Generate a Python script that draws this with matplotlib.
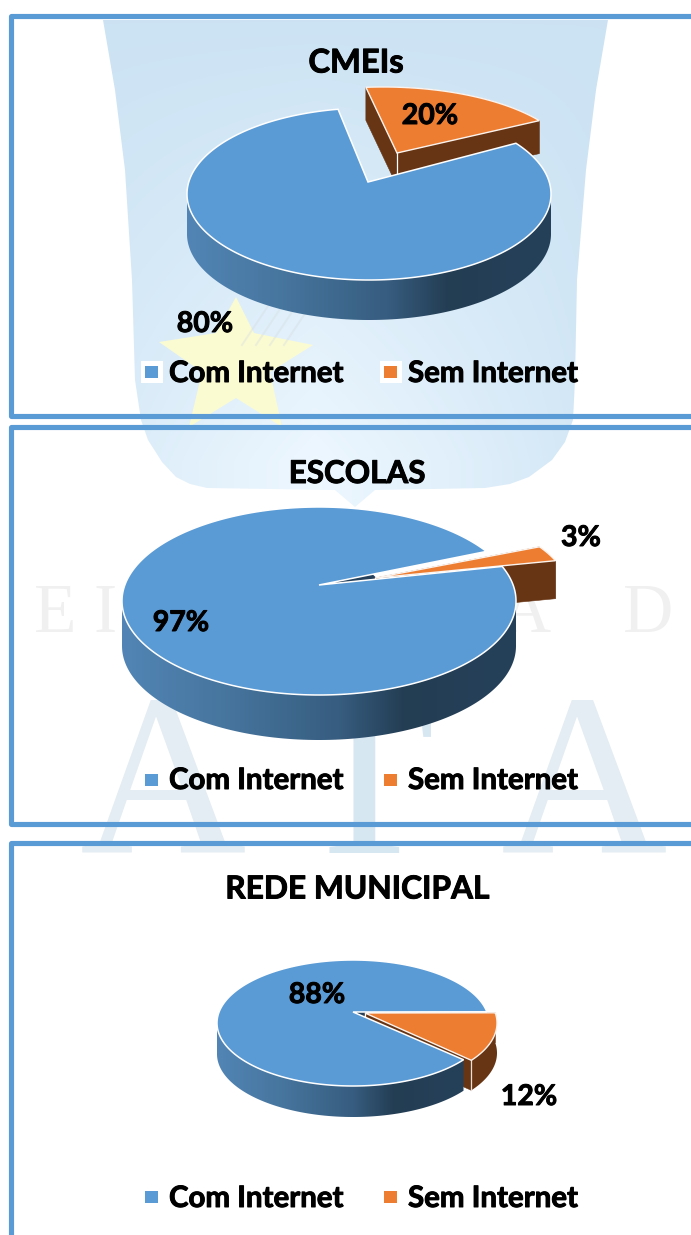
import numpy as np
import matplotlib
matplotlib.use("Agg")
import matplotlib.pyplot as plt
import matplotlib.patheffects as pe
from matplotlib.colors import LinearSegmentedColormap
from matplotlib.patches import Polygon, Rectangle

# ---- data ----
titles = ["CMEIs", "ESCOLAS", "REDE MUNICIPAL"]
legend_labels = ["Com Internet", "Sem Internet"]
com_internet = [80, 97, 88]
sem_internet = [20, 3, 12]

# ---- layout (pixels) ----
W, H = 691, 1235
BLUE, ORANGE, BROWN = "#5B9BD5", "#ED7D31", "#673514"
FONT = "Lato"
blue_geo = [dict(cx=369, cy=194, rx=182, ry=86, apex=182, apex_x=368, d=40),
            dict(cx=319, cy=601, rx=197, ry=94, apex=585, apex_x=319, d=45),
            dict(cx=353, cy=1023, rx=136, ry=63, apex=1012, apex_x=353, d=31)]
orange_geo = [dict(cx=383, cy=165, rx=190, ry=78, apex=153, apex_x=397, d=33),
              dict(cx=375, cy=594, rx=195, ry=88, apex=578, apex_x=375, d=38),
              dict(cx=365, cy=1023, rx=132, ry=63, apex=1013, apex_x=365, d=30)]
start_angle = [29, 12, -43]
sliver_frac = [0, 0.32, 0.10]
title_xy = [(356, 63), (357, 474), (357, 889)]
com_xy = [(205, 324), (181, 623), (317, 995)]
sem_xy = [(430, 116), (581, 538), (529, 1097)]
legend_y = [374, 781, 1199]
square_y = [372, 780, 1197]
frames = [(15.5, 415.5), (426.5, 823.5), (842.5, None)]

fig = plt.figure(figsize=(W / 100, H / 100), dpi=100, facecolor="white")
ax = fig.add_axes([0, 0, 1, 1])
ax.axis("off")
heavy = [pe.withStroke(linewidth=0.7, foreground="black")]


def rim(g, t0, t1, n=240):
    t = np.radians(np.linspace(t0, t1, n))
    x0 = (g["apex_x"] - g["cx"]) / g["rx"]
    y0 = (g["cy"] - g["apex"]) / g["ry"]
    b = x0 * np.cos(t) + y0 * np.sin(t)
    s = -b + np.sqrt(b ** 2 - (x0 ** 2 + y0 ** 2 - 1))
    return np.column_stack([g["cx"] + g["rx"] * (x0 + s * np.cos(t)),
                            g["cy"] - g["ry"] * (y0 + s * np.sin(t))])


def gradient_patch(pts, cmap, z):
    x0, x1 = pts[:, 0].min(), pts[:, 0].max()
    y0, y1 = pts[:, 1].min(), pts[:, 1].max()
    im = ax.imshow(np.linspace(0, 1, 256)[None, :], cmap=cmap, aspect="auto",
                   extent=(x0, x1, y1, y0), zorder=z)
    clip = Polygon(pts, closed=True, transform=ax.transData, facecolor="none", edgecolor="none")
    ax.add_patch(clip)
    im.set_clip_path(clip)


# ---- watermark ----
shield_xy = np.array([(103, 20), (608, 20), (596, 90), (586, 170), (577, 280), (575, 380), (573, 420), (565, 442),
                      (552, 460), (529, 477), (510, 484), (485, 488), (375, 490), (355, 507), (335, 490), (207, 488),
                      (190, 484), (176, 477), (162, 462), (148, 440), (141, 420), (135, 380), (132, 280), (125, 170),
                      (115, 90)], float)
sx, sy = np.meshgrid(np.linspace(0, 1, 200), np.linspace(0, 1, 200))
low = np.array([0.80, 0.89, 0.955])
high = np.array([0.93, 0.97, 1.0])
mix = np.clip(sy * 1.1, 0, 1) * np.clip(1 - np.abs(sx - 0.42) / 0.62, 0, 1) ** 0.8
shield_img = low + (high - low) * mix[..., None]
im = ax.imshow(shield_img, aspect="auto", extent=(103, 608, 507, 20), zorder=1)
clip = Polygon(shield_xy, closed=True, transform=ax.transData, fc="none", ec="none")
ax.add_patch(clip)
im.set_clip_path(clip)
star_xy = [(236, 297), (254, 333), (313, 345), (270, 372), (282, 427), (236, 398), (189, 427), (202, 372),
           (159, 342), (216, 333)]
ax.add_patch(Polygon(star_xy, closed=True, fc="#FBFBD2", ec="none", zorder=2))
for i in range(4):
    ax.plot([242 + 14 * i, 272 + 14 * i], [345, 300], color="#d6dee3", lw=1.5, alpha=0.4, zorder=2)
for ch, x in zip("AA", (163, 584)):
    ax.text(x, 853, ch, family="Liberation Serif", fontsize=166, color="#e4edf3", ha="center", va="baseline", zorder=1)
ax.text(364, 853, "T", family="Liberation Serif", fontsize=166, color="#d6e7f2", ha="center", va="baseline", zorder=1)
for ch, x in zip("EIAD", (55, 105, 525, 648)):
    ax.text(x, 632, ch, family="Liberation Serif", fontsize=50, color="#f0f0f0", ha="center", va="baseline", zorder=1)

# ---- frames ----
for top, bottom in frames:
    xs = [W + 5, 11.5, 11.5] + ([W + 5] if bottom else [])
    ys = [top, top, bottom if bottom else H + 5] + ([bottom] if bottom else [])
    ax.plot(xs, ys, color=BLUE, lw=3.7, solid_joinstyle="round", zorder=3)

side_cmap = LinearSegmentedColormap.from_list(
    "side", [(0, "#5285B5"), (0.25, "#47769f"), (0.55, "#375d80"), (0.72, "#233d53"), (1, "#25415a")])

# ---- pies ----
for i in range(3):
    gb, go = blue_geo[i], orange_geo[i]
    a0 = start_angle[i]
    a1 = a0 + sem_internet[i] * 3.6
    a2 = a0 + (sem_internet[i] + com_internet[i]) * 3.6
    z = 5

    # dark inner sliver of the gap
    apex_b = np.array([gb["apex_x"], gb["apex"]], float)
    if sliver_frac[i]:
        ends = rim(gb, a0, a1, 2)
        ax.add_patch(Polygon([apex_b, apex_b + (ends[0] - apex_b) * sliver_frac[i],
                              apex_b + (ends[1] - apex_b) * sliver_frac[i]],
                             closed=True, fc="#24405a", ec="none", zorder=z))

    # exploded orange slice
    arc = rim(go, a0, a1, 80)
    apex_o = np.array([[go["apex_x"], go["apex"]]], float)
    top_o = np.vstack([apex_o, arc])
    down = np.array([0, go["d"]])
    ax.add_patch(Polygon(np.vstack([arc, (arc + down)[::-1]]), closed=True, fc=BROWN, ec="none", zorder=z + 1))
    for edge in (arc[0], arc[-1]):
        ax.add_patch(Polygon([apex_o[0], edge, edge + down, apex_o[0] + down], closed=True,
                             fc=BROWN, ec=BROWN, lw=0.4, zorder=z + 1))
    ax.plot([apex_o[0, 0]] * 2, [apex_o[0, 1], apex_o[0, 1] + go["d"]], color="white", lw=0.9, zorder=z + 1.5)
    if i == 2:
        ax.plot([arc[0, 0]] * 2, [arc[0, 1], arc[0, 1] + go["d"]], color="#e8ded8", lw=0.9, zorder=z + 1.5)
    ax.add_patch(Polygon(top_o, closed=True, fc=ORANGE, ec="#fbf3ee", lw=1.0, zorder=z + 2))

    # blue slice: only the front half of the rim shows a side wall
    arc_b = rim(gb, a1, a2, 720)
    front = arc_b[arc_b[:, 1] >= gb["cy"]]
    wall = np.vstack([front, (front + np.array([0, gb["d"]]))[::-1]])
    gradient_patch(wall, side_cmap, z + 3)
    top_b = np.vstack([[apex_b], arc_b])
    ax.add_patch(Polygon(top_b, closed=True, fc=BLUE, ec="white", lw=1.1, joinstyle="miter", zorder=z + 4))

    # labels
    tkw = dict(family=FONT, fontweight="bold", color="black", ha="center", va="center", zorder=20,
               path_effects=heavy)
    ax.text(*title_xy[i], titles[i], fontsize=[23.5, 22.6, 22.8][i], **tkw)
    ax.text(*com_xy[i], f"{com_internet[i]}%", fontsize=20.5, **tkw)
    ax.text(*sem_xy[i], f"{sem_internet[i]}%", fontsize=20.5, **tkw)

    # legend
    y = legend_y[i]
    ys_q = square_y[i]
    for x_sq, x_txt, color, label in zip((152, 391), (169, 408), (BLUE, ORANGE), legend_labels):
        if i == 0:
            ax.add_patch(Rectangle((x_sq - 11, ys_q - 11), 22, 22, fc="white", ec="none", zorder=18))
        ax.add_patch(Rectangle((x_sq - 6.5, ys_q - 6), 13, 12, fc=color, ec="none", zorder=19))
        ax.text(x_txt, y, label, family=FONT, fontweight="bold", fontsize=21.2, color="black",
                ha="left", va="center", zorder=20, path_effects=heavy)

ax.set_xlim(0, W)
ax.set_ylim(H, 0)
fig.savefig("out.png", dpi=100, facecolor="white")
